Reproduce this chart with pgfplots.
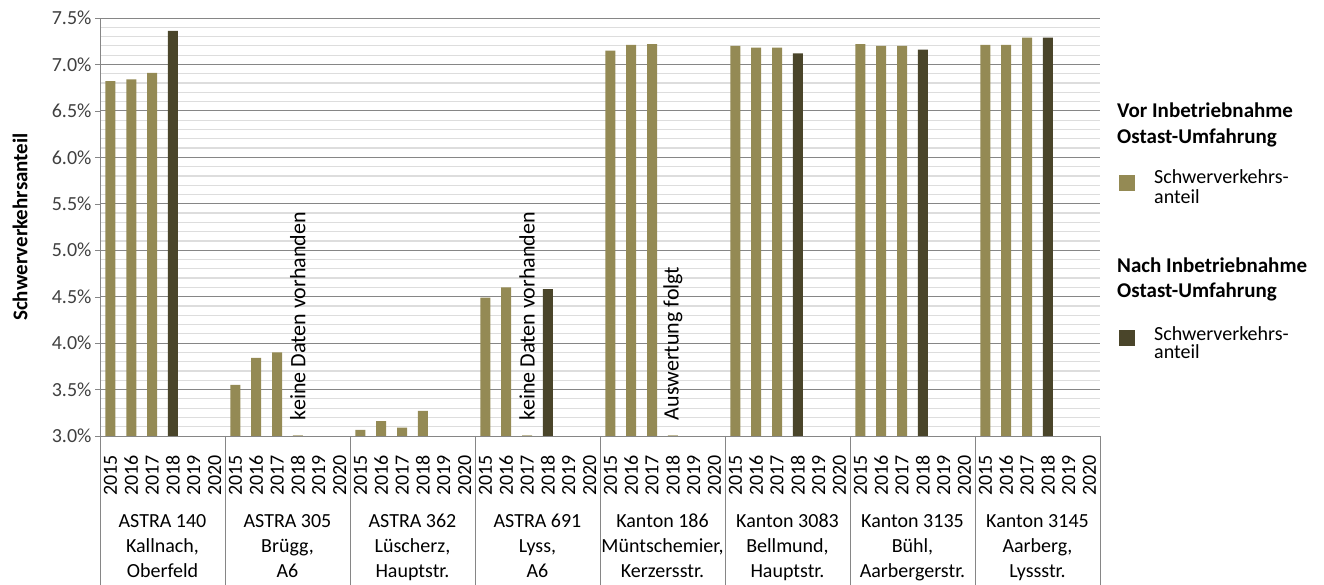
\documentclass[border=0pt]{standalone}
\usepackage{pgfplots}
\pgfplotsset{compat=1.18}
\usepackage{fontspec}
\setmainfont{Carlito}
\definecolor{vor}{HTML}{948A54}
\definecolor{nach}{HTML}{4A452A}
\definecolor{majgrid}{HTML}{868686}
\definecolor{mingrid}{HTML}{DDDDDD}
\definecolor{ticktext}{HTML}{404040}
\newcommand{\fs}[1]{\fontsize{#1}{25}\selectfont}

\begin{document}
\begin{tikzpicture}[x=1pt,y=1pt]
\begin{axis}[
  at={(100pt,149pt)}, anchor=south west,
  scale only axis, width=1000pt, height=418pt,
  xmin=-0.5, xmax=47.5, ymin=3, ymax=7.5,
  enlargelimits=false,
  clip mode=individual,
  axis lines*=left,
  axis line style={draw=majgrid},
  ybar, bar width=10pt,
  ytick={3,3.5,...,7.5},
  minor y tick num=4,
  ymajorgrids, yminorgrids,
  major grid style={draw=majgrid, line width=0.9pt},
  minor grid style={draw=mingrid, line width=1.2pt},
  y tick style={draw=majgrid},
  tick align=outside,
  major tick length=5pt, minor tick length=0pt,
  x tick style={draw=none},
  /pgf/number format/assume math mode=true,
  yticklabel={\pgfmathprintnumber[fixed,fixed zerofill,precision=1]{\tick}\%},
  yticklabel style={font=\fs{20}, text=ticktext},
  xtick={0,...,47},
  xticklabels={2015,2016,2017,2018,2019,2020,2015,2016,2017,2018,2019,2020,
               2015,2016,2017,2018,2019,2020,2015,2016,2017,2018,2019,2020,
               2015,2016,2017,2018,2019,2020,2015,2016,2017,2018,2019,2020,
               2015,2016,2017,2018,2019,2020,2015,2016,2017,2018,2019,2020},
  xticklabel style={rotate=90, anchor=east, font=\fs{20}, text=black, inner sep=0pt, xshift=-14pt},
]
% vor Inbetriebnahme Ostast-Umfahrung
\addplot[fill=vor, draw=none, bar shift=0pt] coordinates {
  (0,6.82) (1,6.84) (2,6.91)
  (6,3.55) (7,3.84) (8,3.90)
  (12,3.065) (13,3.16) (14,3.09) (15,3.27)
  (18,4.49) (19,4.60)
  (24,7.15) (25,7.21) (26,7.22)
  (30,7.20) (31,7.18) (32,7.18)
  (36,7.22) (37,7.20) (38,7.20)
  (42,7.21) (43,7.21) (44,7.29)
};
% nach Inbetriebnahme Ostast-Umfahrung
\addplot[fill=nach, draw=none, bar shift=0pt] coordinates {
  (3,7.36) (21,4.58) (33,7.12) (39,7.16) (45,7.29)
};
% leere Werte
\addplot[fill=none, draw=vor!60, line width=1.5pt, bar shift=0pt] coordinates {
  (9,3.0) (20,3.0) (27,3.0)
};

\node[rotate=90, anchor=west, font=\fs{22}, inner sep=0pt] at (axis cs:9,3.17) {keine Daten vorhanden};
\node[rotate=90, anchor=west, font=\fs{22}, inner sep=0pt] at (axis cs:20,3.17) {keine Daten vorhanden};
\node[rotate=90, anchor=west, font=\fs{22}, inner sep=0pt] at (axis cs:27,3.17) {Auswertung folgt};

% Gruppen
\pgfplotsinvokeforeach{-0.5,5.5,11.5,17.5,23.5,29.5,35.5,41.5,47.5}{
  \draw[majgrid, line width=0.9pt] (axis cs:#1,3) -- ++(0pt,-149pt);
}
\end{axis}

\tikzset{grp/.style={align=center, anchor=base, font=\fs{20}}}
\node[grp] at (162.5,7) {ASTRA 140\\Kallnach,\\Oberfeld};
\node[grp] at (287.5,7) {ASTRA 305\\Brügg,\\A6};
\node[grp] at (412.5,7) {ASTRA 362\\Lüscherz,\\Hauptstr.};
\node[grp] at (537.5,7) {ASTRA 691\\Lyss,\\A6};
\node[grp] at (662.5,7) {Kanton 186\\Müntschemier,\\Kerzersstr.};
\node[grp] at (787.5,7) {Kanton 3083\\Bellmund,\\Hauptstr.};
\node[grp] at (912.5,7) {Kanton 3135\\Bühl,\\Aarbergerstr.};
\node[grp] at (1037.5,7) {Kanton 3145\\Aarberg,\\Lyssstr.};

\node[rotate=90, font=\fs{21}\bfseries] at (20,358) {Schwerverkehrsanteil};

% Legende
\tikzset{lg/.style={anchor=base west, align=left, font=\fs{20}, inner sep=0pt}}
\node[lg, font=\fs{21}\bfseries] at (1117,467) {Vor Inbetriebnahme};
\node[lg, font=\fs{21}\bfseries] at (1117,441) {Ostast-Umfahrung};
\fill[vor] (1119,394) rectangle (1135,410);
\node[lg] at (1154,401) {Schwerverkehrs-};
\node[lg] at (1154,381) {anteil};
\node[lg, font=\fs{21}\bfseries] at (1117,312) {Nach Inbetriebnahme};
\node[lg, font=\fs{21}\bfseries] at (1117,287) {Ostast-Umfahrung};
\fill[nach] (1119,239) rectangle (1135,255);
\node[lg] at (1154,244) {Schwerverkehrs-};
\node[lg] at (1154,226) {anteil};

\pgfresetboundingbox
\useasboundingbox (0,0) rectangle (1324,585);
\end{tikzpicture}
\end{document}
